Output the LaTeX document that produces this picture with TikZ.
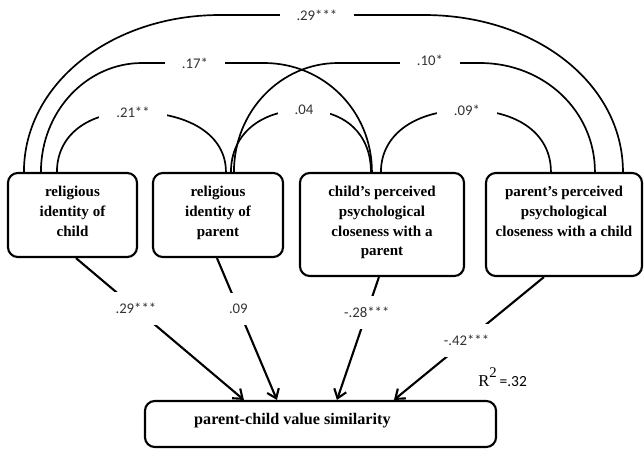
\documentclass[tikz,border=0pt]{standalone}
\usepackage{fontspec}
\setmainfont{Liberation Serif}
\newfontfamily\coeffont{Carlito}
\usetikzlibrary{positioning,arrows.meta}

\tikzset{
  varbox/.style={draw, line width=1.5pt, rounded corners=7pt, inner sep=0pt},
  boxtext/.style={align=center, inner sep=0pt, font=\fontsize{10.7}{14}\selectfont\bfseries},
  coef/.style={font=\coeffont\fontsize{10.5}{12}\selectfont, text=black!80, fill=white, inner ysep=1pt, inner xsep=12pt},
  pathcoef/.style={coef, inner xsep=1.5pt, inner ysep=8pt},
  corr/.style={line width=1.2pt},
  effect/.style={line width=1.5pt, -{Straight Barb[length=6pt,width=9pt]}},
}

\begin{document}
\begin{tikzpicture}[x=0.025cm,y=-0.025cm]
	\useasboundingbox (0,0) rectangle (644,450);

	% Boxes
	\node[varbox, minimum width=3.225cm, minimum height=2.1cm] (rc) at (72.5,215) {};
	\node[varbox, minimum width=3.25cm, minimum height=2.1cm] (rp) at (218,215) {};
	\node[varbox, minimum width=4.1cm, minimum height=2.575cm] (cc) at (382,224.5) {};
	\node[varbox, minimum width=3.9cm, minimum height=2.575cm] (pc) at (564,224.5) {};
	\node[varbox, minimum width=8.775cm, minimum height=1.15cm] (pcv) at (320.5,424) {};

	% Texts
	\node[boxtext, below=0.35cm of rc.north] (rctext) {religious\\identity of\\child};
	\node[boxtext, below=0.35cm of rp.north] (rptext) {religious\\identity of\\parent};
	\node[boxtext, below=0.35cm of cc.north] (cctext) {child’s perceived\\psychological\\closeness with a\\parent};
	\node[boxtext, below=0.35cm of pc.north] (pctext) {parent’s perceived\\psychological\\closeness with a child};
	\node[boxtext, font=\fontsize{11.5}{14}\selectfont\bfseries, anchor=base west] (pcvtext) at ([xshift=1.25cm]pcv.west) {parent-child value similarity};
	\node[anchor=base west, inner sep=0pt] (rsq) at ([xshift=-0.475cm,yshift=0.325cm]pcv.north east)
		{\fontsize{11.8}{12}\selectfont R\raisebox{0.24cm}{\fontsize{10.5}{12}\selectfont 2}\,{\coeffont\fontsize{11}{12}\selectfont =.32}};

	% Correlations
	\draw[corr] ([xshift=0.425cm]rc.north west) .. controls +(0,-88) and +(-109,0) .. (220,15)
		-- node[coef, pos=0.475] {.29***} (424,15) .. controls +(112,0) and +(0,-88) .. ([xshift=3.45cm]pc.north west);
	\draw[corr] ([xshift=0.85cm]rc.north west) .. controls +(0,-61) and +(-55,0) .. (142,63)
		-- node[coef, pos=0.434] {.17*} (264,63) .. controls +(60,0) and +(0,-61) .. ([xshift=1.825cm]cc.north west);
	\draw[corr] ([xshift=2.05cm]rp.north west) .. controls +(0,-61) and +(-57,0) .. (338,63)
		-- node[coef, pos=0.648, yshift=0.07cm] {.10*} (480,63) .. controls +(64,0) and +(0,-61) .. ([xshift=2.75cm]pc.north west);
	\draw[corr] ([xshift=1.25cm]rc.north west) .. controls +(0,-37) and +(-45,0) .. (133,112)
		node[coef] {.21**} .. controls +(56,0) and +(0,-37) .. ([xshift=1.85cm]rp.north west);
	\draw[corr] ([xshift=1.975cm]rp.north west) .. controls +(0,-38) and +(-43,0) .. (304,110)
		node[coef] {.04} .. controls +(41,0) and +(0,-38) .. ([xshift=1.8cm]cc.north west);
	\draw[corr] ([xshift=2.05cm]cc.north west) .. controls +(0,-38) and +(-51,0) .. (467,110)
		node[coef] {.09*} .. controls +(51,0) and +(0,-38) .. ([xshift=1.65cm]pc.north west);

	% Effects
	\draw[effect] ([xshift=1.725cm]rc.south west) -- node[pathcoef, pos=0.357] {.29***} ([xshift=2.5cm]pcv.north west);
	\draw[effect] ([xshift=1.625cm]rp.south west) -- node[pathcoef, pos=0.357] {.09} ([xshift=3.325cm]pcv.north west);
	\draw[effect] ([xshift=2cm]cc.south west) -- node[pathcoef, pos=0.29] {-.28***} ([xshift=4.825cm]pcv.north west);
	\draw[effect] ([xshift=1.475cm]pc.south west) -- node[pathcoef, pos=0.516] {-.42***} ([xshift=6.25cm]pcv.north west);

\end{tikzpicture}
\end{document}
